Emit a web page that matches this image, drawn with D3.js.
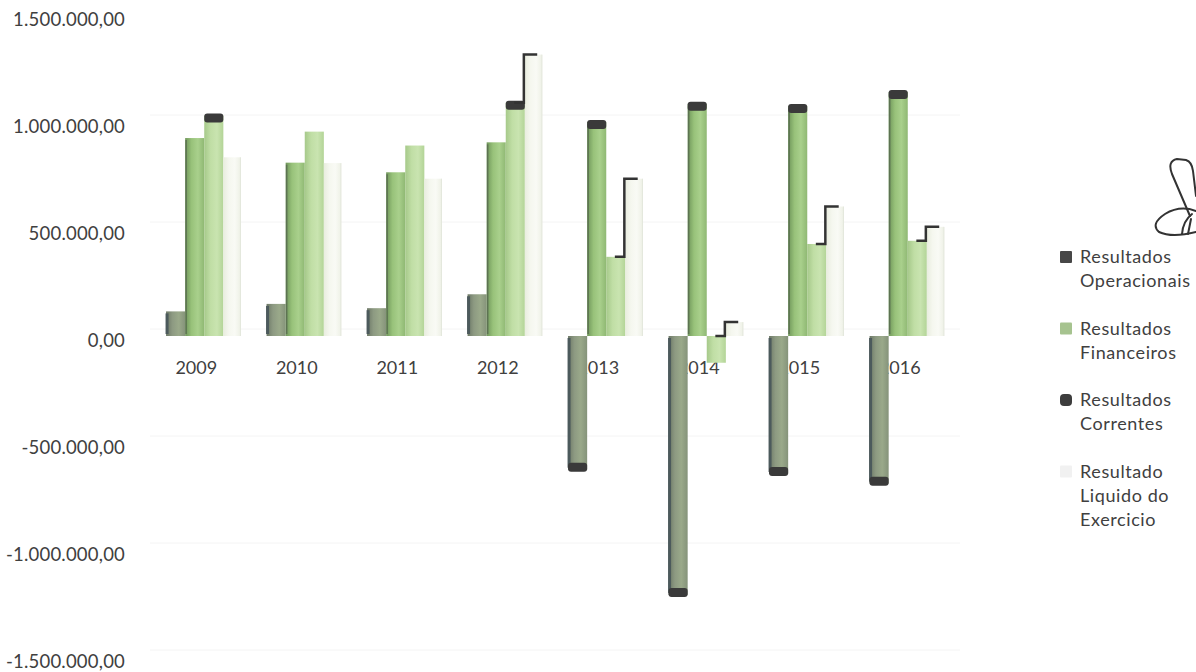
<!DOCTYPE html>
<html>
<head>
<meta charset="utf-8">
<script src="https://cdn.jsdelivr.net/npm/d3@7"></script>
<style>
  html, body { margin: 0; padding: 0; background: #ffffff; }
  svg { display: block; }
  text { font-family: Lato, "Open Sans", sans-serif; fill: #404040; }
</style>
</head>
<body>
<svg id="chart" width="1196" height="672"></svg>
<script>
// Resultados anuais (valores em unidades monetárias)
const years = ["2009", "2010", "2011", "2012", "2013", "2014", "2015", "2016"];
const seriesNames = ["Resultados Operacionais", "Resultados Financeiros", "Resultados Correntes", "Resultado Liquido do Exercicio"];
const operacionais = [115000, 150000, 130000, 195000, -625000, -1210000, -645000, -690000];
const financeiros  = [925000, 810000, 765000, 905000, 1000000, 1085000, 1075000, 1140000];
const correntes    = [1030000, 955000, 890000, 1090000, 370000, -125000, 430000, 445000];
const liquido      = [835000, 808000, 735000, 1315000, 735000, 65000, 605000, 510000];
const yTicks = [-1500000, -1000000, -500000, 0, 500000, 1000000, 1500000];
const legendLines = [
  ["Resultados", "Operacionais"],
  ["Resultados", "Financeiros"],
  ["Resultados", "Correntes"],
  ["Resultado", "Liquido do", "Exercicio"]
];

const seriesValues = [operacionais, financeiros, correntes, liquido];
const rows = years.map((yr, i) => ({
  year: yr,
  values: seriesNames.map((s, k) => ({ key: k, year: yr, value: seriesValues[k][i] }))
}));

const svg = d3.select("#chart");

const ptBR = d3.formatLocale({ decimal: ",", thousands: ".", grouping: [3], currency: ["", ""], minus: "-" });
const fmt = ptBR.format(",.2f");

const y = d3.scaleLinear().domain([-1500000, 1500000]).range([662, 20]);
const x0 = d3.scaleBand().domain(years).range([154, 958]).paddingInner(0.24).paddingOuter(0.12);
const x1 = d3.scaleBand().domain(d3.range(seriesNames.length)).range([0, x0.bandwidth()]);

// gradients for the column faces
const defs = svg.append("defs");
const grads = [
  ["g0", ["#6c7766", "#8d9a82", "#9aa98a", "#85937a"]],
  ["g1", ["#6f965a", "#98c27a", "#a9d08c", "#8fb873"]],
  ["g2", ["#a6c98a", "#c0dea5", "#c9e4b0", "#b3d497"]],
  ["g3", ["#e9eddf", "#f5f7ef", "#f9faf5", "#eef1e6"]]
];
grads.forEach(([id, cols]) => {
  const g = defs.append("linearGradient").attr("id", id).attr("x1", "0").attr("x2", "1").attr("y1", "0").attr("y2", "0");
  cols.forEach((c, i) => g.append("stop").attr("offset", i / (cols.length - 1)).attr("stop-color", c));
});

// back wall gridlines (sit a little higher than the axis labels, 3D wall)
svg.append("g")
  .selectAll("line")
  .data(yTicks.filter(t => t < 1500000))
  .join("line")
  .attr("x1", 150).attr("x2", 960)
  .attr("y1", d => y(d) - 12).attr("y2", d => y(d) - 12)
  .attr("stroke", "#f4f4f4").attr("stroke-width", 1);

// value axis
const yAxis = d3.axisLeft(y).tickValues(yTicks).tickFormat(fmt).tickSize(0).tickPadding(0);
const ya = svg.append("g").attr("transform", "translate(125,0)").call(yAxis);
ya.select(".domain").remove();
ya.selectAll("text")
  .style("font-family", "Lato, sans-serif")
  .style("font-size", "18.5px")
  .attr("fill", "#3f3f3f")
  .attr("letter-spacing", "0.2");

// category labels (drawn before the columns, which overlap them)
const xAxis = d3.axisBottom(x0).tickSize(0).tickPadding(0);
const xa = svg.append("g").attr("transform", "translate(-8,361)").call(xAxis);
xa.select(".domain").remove();
xa.selectAll("text")
  .style("font-family", "Lato, sans-serif")
  .style("font-size", "18px")
  .attr("fill", "#404040");

// columns
const plot = svg.append("g").attr("transform", "translate(0,-5)");
const groups = plot.selectAll("g.year")
  .data(rows)
  .join("g")
  .attr("class", "year")
  .attr("transform", d => `translate(${x0(d.year)},0)`);

const bw = x1.bandwidth();
groups.selectAll("rect.bar")
  .data(d => d.values)
  .join("rect")
  .attr("class", "bar")
  .attr("x", d => x1(d.key))
  .attr("width", d => d.key === 3 ? bw - 2 : bw)
  .attr("y", d => y(Math.max(0, d.value)))
  .attr("height", d => Math.abs(y(d.value) - y(0)))
  .attr("fill", d => `url(#g${d.key})`);

// darker left edges on the first two series
groups.selectAll("line.edge")
  .data(d => d.values.filter(v => v.key < 2))
  .join("line")
  .attr("class", "edge")
  .attr("x1", d => x1(d.key) + 1).attr("x2", d => x1(d.key) + 1)
  .attr("y1", d => y(Math.max(0, d.value)) + 2)
  .attr("y2", d => y(Math.min(0, d.value)) - 2)
  .attr("stroke", d => d.key === 0 ? "#4c5a5c" : "#5d7352")
  .attr("stroke-width", d => d.key === 0 ? 3 : 1.5);

// faint outline on the net result columns
groups.selectAll("line.liqedge")
  .data(d => d.values.filter(v => v.key === 3))
  .join("line")
  .attr("class", "liqedge")
  .attr("x1", d => x1(d.key) + bw - 2).attr("x2", d => x1(d.key) + bw - 2)
  .attr("y1", d => y(Math.max(0, d.value)))
  .attr("y2", d => y(Math.min(0, d.value)))
  .attr("stroke", "#e3e7db").attr("stroke-width", 1);

// dark end caps: negative operating results and columns reaching 1.000.000
const capH = 9;
groups.selectAll("rect.cap")
  .data(d => d.values.filter(v => (v.key === 0 && v.value < 0) || (v.key < 3 && v.value >= 1000000)))
  .join("rect")
  .attr("class", "cap")
  .attr("x", d => x1(d.key))
  .attr("width", bw)
  .attr("y", d => d.value < 0 ? y(d.value) - capH + 2 : y(d.value) - 2)
  .attr("height", capH)
  .attr("rx", 3)
  .attr("fill", "#3a3a3a");

// step edge where the net result rises above the current result
groups.selectAll("path.step")
  .data(d => {
    const c = d.values[2].value, l = d.values[3].value;
    return l > Math.max(c, 0) ? [{ c: Math.max(c, 0), l }] : [];
  })
  .join("path")
  .attr("class", "step")
  .attr("d", d => {
    const xs = x1(2) + bw * 0.45, xl = x1(3) - 1;
    return `M${xs},${y(d.c)} H${xl} V${y(d.l)} H${xl + bw * 0.7}`;
  })
  .attr("fill", "none")
  .attr("stroke", "#333333")
  .attr("stroke-width", 2.5);

// legend
const legendColors = ["#474747", "#a6c38f", "#3d3d3d", "#f1f1f1"];
const lg = svg.append("g").attr("transform", "translate(1060,0)");
const items = lg.selectAll("g.item")
  .data(legendLines)
  .join("g")
  .attr("class", "item")
  .attr("transform", (d, i) => `translate(0,${257 + i * 71.5})`);
items.append("rect")
  .attr("x", 0).attr("y", -6).attr("width", 12).attr("height", 12)
  .attr("rx", (d, i) => i === 2 ? 4 : 1)
  .attr("fill", (d, i) => legendColors[i]);
items.selectAll("text")
  .data(d => d)
  .join("text")
  .attr("x", 20)
  .attr("y", (d, j) => j * 24)
  .attr("dy", "0.35em")
  .style("font-size", "18px")
  .attr("letter-spacing", "0.6")
  .text(d => d);

// hand-drawn initials beside the legend
const ink = svg.append("g").attr("fill", "none").attr("stroke", "#333").attr("stroke-width", 2).attr("stroke-linecap", "round");
ink.append("path").attr("d", "M1190,216 L1172,174 Q1167,161 1177,159 L1186,160 Q1192,162 1193,171 L1196,196");
ink.append("path").attr("d", "M1196,211 Q1180,205 1165,214 Q1150,224 1159,232 Q1172,238 1196,232");
ink.append("path").attr("d", "M1182,234 Q1183,221 1192,214");
ink.append("path").attr("d", "M1188,234 L1191,219");
</script>
</body>
</html>
